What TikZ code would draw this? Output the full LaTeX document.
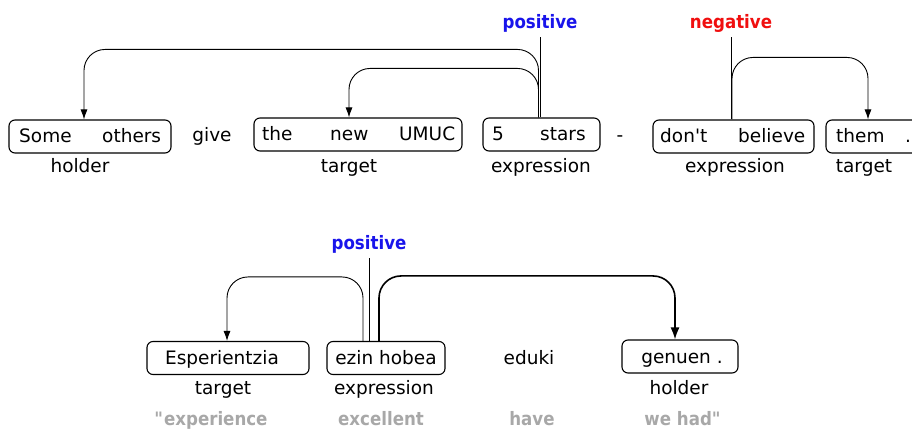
\documentclass[tikz,border=0pt]{standalone}
\usepackage{fontspec}
\setmainfont{DejaVu Sans}
\newfontfamily\narrowfont[FakeStretch=0.9]{DejaVu Sans}
\usetikzlibrary{arrows.meta}

\definecolor{posblue}{RGB}{25,20,235}
\definecolor{negred}{RGB}{240,15,15}
\definecolor{glossgray}{RGB}{168,168,168}

\tikzset{
  word/.style={inner sep=0pt, anchor=base, font=\fontsize{18.5}{22}\selectfont},
  span/.style={draw, rounded corners=6pt, line width=1.1pt, minimum height=33pt, inner sep=0pt},
  gloss/.style={word, text=glossgray, font=\narrowfont\fontsize{18.5}{22}\selectfont\bfseries},
  pol/.style={inner sep=0pt, anchor=base, font=\narrowfont\fontsize{18.5}{22}\selectfont\bfseries},
  stem/.style={line width=0.9pt},
  link/.style={-{Latex[length=10pt,width=7pt]}, line width=0.9pt, rounded corners=21pt},
  boldlink/.style={-{Latex[length=12pt,width=9pt]}, line width=1.6pt, rounded corners=22pt},
}

\begin{document}
\begin{tikzpicture}[x=1pt,y=1pt]
  \useasboundingbox (0,0) rectangle (912,428);

  % first sentence
  \node[span, minimum width=162pt] (so)  at (90,291.5) {};
  \node[span, minimum width=208pt] (tnu) at (358,293.5) {};
  \node[span, minimum width=117pt] (fs)  at (541.5,293.5) {};
  \node[span, minimum width=161pt] (db)  at (733.5,291.5) {};
  \node[span, minimum width=100pt] (th)  at (876,291.5) {};

  \node[word, anchor=base west] (w1)  at (19,285)  {Some};
  \node[word, anchor=base west] (w2)  at (102,285) {others};
  \node[word] (w3)  at (212,286) {give};
  \node[word, anchor=base west] (w4)  at (262,287) {the};
  \node[word, anchor=base west] (w5)  at (330,287) {new};
  \node[word, anchor=base west] (w6)  at (399,287) {UMUC};
  \node[word, anchor=base west] (w7)  at (492,287) {5};
  \node[word, anchor=base west] (w8)  at (540,287) {stars};
  \node[word] (w9)  at (620,286) {-};
  \node[word, anchor=base west] (w10) at (660,285) {don\textquotesingle t};
  \node[word, anchor=base west] (w11) at (738,285) {believe};
  \node[word, anchor=base west] (w12) at (836,285) {them};
  \node[word, anchor=base west] (w13) at (905,285) {.};

  \node[word] (r1) at (80,255)  {holder};
  \node[word] (r2) at (349,255) {target};
  \node[word] (r3) at (541,255) {expression};
  \node[word] (r4) at (735,255) {expression};
  \node[word] (r5) at (864,255) {target};

  \node[pol, text=posblue] (p1) at (540,399) {positive};
  \node[pol, text=negred]  (p2) at (731,399) {negative};

  \draw[stem] ([yshift=-4pt]p1.south) -- (p1.south |- fs.north);
  \draw[stem] ([yshift=-4pt]p2.south) -- (p2.south |- db.north);
  \draw[link] ([xshift=-3pt]fs.north) -- ++(0,68) -| ([xshift=-6pt]so.north);
  \draw[link] ([xshift=-3pt]fs.north) -- ++(0,49) -| ([xshift=-9pt]tnu.north);
  \draw[link] ([xshift=-1.5pt]db.north) -- ++(0,62) -| ([xshift=-8pt]th.north);

  % second sentence
  \node[span, minimum width=162pt] (esp) at (228,70) {};
  \node[span, minimum width=118pt] (ezh) at (386,70) {};
  \node[span, minimum width=116pt] (gen) at (680,71.5) {};

  \node[word] (b1) at (222,63) {Esperientzia};
  \node[word] (b2) at (386,63) {ezin hobea};
  \node[word] (b3) at (529,63) {eduki};
  \node[word] (b4) at (682,64) {genuen .};

  \node[word] (s1) at (223,33) {target};
  \node[word] (s2) at (384,33) {expression};
  \node[word] (s3) at (679,33) {holder};

  \node[gloss] (g1) at (211,3) {\textquotedbl experience};
  \node[gloss] (g2) at (381,3) {excellent};
  \node[gloss] (g3) at (532,3) {have};
  \node[gloss] (g4) at (683,3) {we had\textquotedbl};

  \node[pol, text=posblue] (p3) at (369,178) {positive};

  \draw[stem] ([yshift=-4pt]p3.south) -- (p3.south |- ezh.north);
  \draw[link] ([xshift=-23pt]ezh.north) -- ++(0,64) -| ([xshift=-1pt]esp.north);
  \draw[boldlink] ([xshift=-7pt]ezh.north) -- ++(0,65) -| ([xshift=-5pt]gen.north);
\end{tikzpicture}
\end{document}
